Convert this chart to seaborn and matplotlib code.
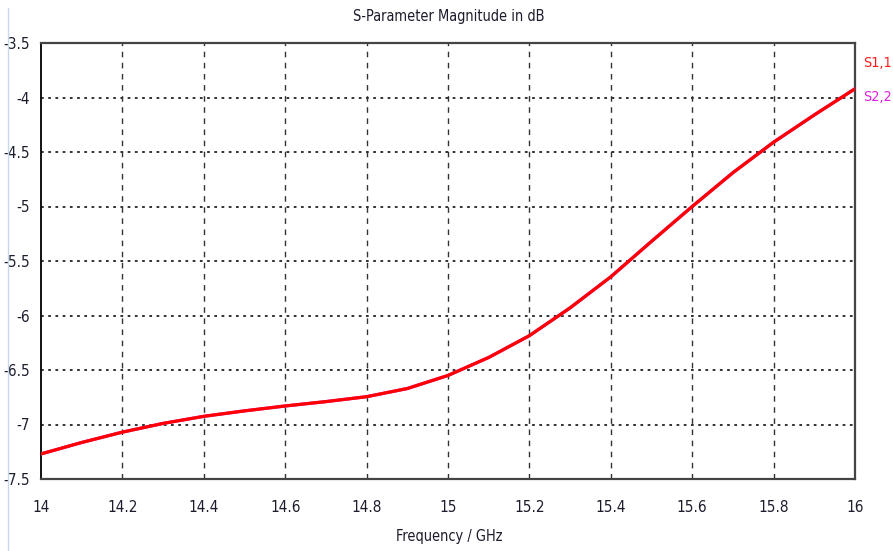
import matplotlib
matplotlib.use("Agg")
import matplotlib.pyplot as plt
import seaborn as sns
import pandas as pd
from matplotlib.lines import Line2D
from matplotlib import font_manager as fm

freq = [14.0, 14.1, 14.2, 14.3, 14.4, 14.5, 14.6, 14.7, 14.8, 14.9, 15.0,
        15.1, 15.2, 15.3, 15.4, 15.5, 15.6, 15.7, 15.8, 15.9, 16.0]
s11 = [-7.27, -7.165, -7.07, -6.99, -6.925, -6.875, -6.83, -6.79, -6.745, -6.67, -6.55,
       -6.385, -6.185, -5.93, -5.645, -5.32, -5.00, -4.69, -4.41, -4.16, -3.92]
s22 = list(s11)
xticks = [14, 14.2, 14.4, 14.6, 14.8, 15, 15.2, 15.4, 15.6, 15.8, 16]
yticks = [-3.5, -4, -4.5, -5, -5.5, -6, -6.5, -7, -7.5]

sns.set_style("white")
plt.rcParams['font.family'] = ['DejaVu Sans']

# look for a condensed / narrow face
cand = [f for f in fm.fontManager.ttflist
        if ('ondensed' in f.fname or 'Narrow' in f.fname or 'ondensed' in f.name or 'Narrow' in f.name)
        and 'Bold' not in f.fname and 'Oblique' not in f.fname and 'Italic' not in f.fname]
pref = sorted(cand, key=lambda f: (0 if 'DejaVuSansCondensed' in f.fname else 1 if 'Liberation' in f.fname else 2))
if pref:
    FP = fm.FontProperties(fname=pref[0].fname)
    SZ = 11
else:
    FP = fm.FontProperties(family='DejaVu Sans', stretch='condensed')
    SZ = 9.5

def fp(size):
    p = FP.copy()
    p.set_size(size)
    return p

fig = plt.figure(figsize=(8.93, 5.51), dpi=100)
ax = fig.add_axes([41/893, 1-479/551, (855-41)/893, (479-43)/551])

df = pd.DataFrame({"f": freq, "S1,1": s11, "S2,2": s22})
sns.lineplot(data=df, x="f", y="S2,2", ax=ax, color="#e020e0", linewidth=2.3, zorder=3)
sns.lineplot(data=df, x="f", y="S1,1", ax=ax, color="#ff0000", linewidth=2.3, zorder=4)

ax.set_xlim(14, 16)
ax.set_ylim(-7.5, -3.5)
ax.set_xticks(xticks)
ax.set_xticklabels([f"{t:g}" for t in xticks])
ax.set_yticks(yticks)
ax.set_yticklabels([f"{t:g}" for t in yticks])

for y in yticks[1:-1]:
    ax.axhline(y, color="#222222", linestyle=(0, (1.5, 2.5)), linewidth=1.3, zorder=1)
for x in xticks[1:-1]:
    ax.axvline(x, color="#333333", linestyle=(0, (4, 4)), linewidth=1.0, zorder=1)

for s in ["top", "right", "bottom"]:
    ax.spines[s].set_color("#444444")
    ax.spines[s].set_linewidth(1.6)
ax.spines["left"].set_color("#111111")
ax.spines["left"].set_linewidth(1.4)

ax.tick_params(axis="both", direction="out", length=5, width=1.2, color="#333333",
               labelcolor="#1c1c2c")
ax.tick_params(axis="x", pad=10)
ax.tick_params(axis="y", pad=3)
for lab in ax.get_xticklabels() + ax.get_yticklabels():
    lab.set_fontproperties(fp(SZ))
ax.set_xlabel("")
ax.set_ylabel("")

fig.text(449/893, 1-537/551, "Frequency / GHz", fontproperties=fp(SZ * 0.95),
         color="#1c1c2c", ha="center", va="center")
fig.text(449/893, 1-16/551, "S-Parameter Magnitude in dB", fontproperties=fp(SZ * 0.95),
         color="#1c1c2c", ha="center", va="center")

fig.text(863/893, 1-63/551, "S1,1", color="#ff1a1a", fontproperties=fp(SZ * 0.93), va="center", ha="left")
fig.text(863/893, 1-97/551, "S2,2", color="#e020e0", fontproperties=fp(SZ * 0.93), va="center", ha="left")

fig.add_artist(Line2D([8/893, 8/893], [0, 1-8/551], color="#c8d8ec", linewidth=1.0))

fig.savefig("out.png", dpi=100)
